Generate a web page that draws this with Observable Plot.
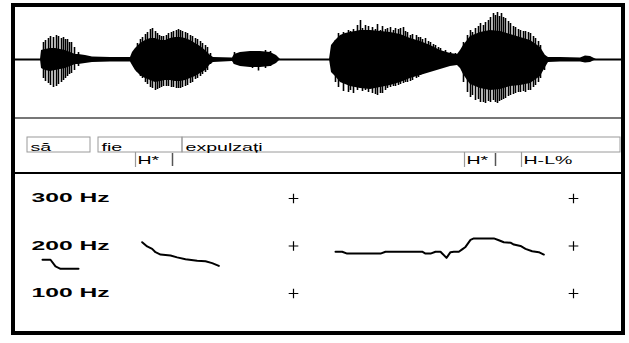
<!DOCTYPE html>
<html><head><meta charset="utf-8">
<script src="https://cdn.jsdelivr.net/npm/d3@7"></script>
<script src="https://cdn.jsdelivr.net/npm/@observablehq/plot@0.6"></script>
<style>
body{margin:0;background:#fff;}
#frame{position:absolute;left:11px;top:3px;width:606px;height:324px;border:4px solid #000;background:#fff;}
#frame svg{display:block;}
.sep1{height:2px;background:#777;}
.sep2{height:2px;background:#000;}
</style></head><body><div id="frame"></div>
<script>
// ---- waveform envelope (time in ms, amplitude in % of full scale) ----
const envT  = [75,78,90,105,120,135,150,165,180,189,210,231,285,345,351,360,375,390,405,420,435,450,465,480,495,510,525,540,555,570,585,594,651,657,675,705,735,765,783,795,942,948,960,975,990,1005,1035,1065,1095,1125,1155,1185,1215,1245,1275,1305,1326,1335,1344,1356,1365,1395,1425,1455,1485,1515,1545,1575,1590,1599,1635,1695,1710,1725,1743];
const envHi = [0,18,20,22,22,20,18,14,10,10,8,5,4,4,14,22,32,38,42,42,38,38,42,44,44,42,38,32,26,18,8,4,3,10,14,16,16,14,8,0,0,28,38,48,52,54,58,58,56,54,50,42,36,28,18,12,10,18,28,38,46,54,58,56,50,44,38,24,8,4,4,3,7,6,0];
const envLo = [0,-18,-22,-24,-22,-20,-18,-14,-10,-10,-8,-6,-5,-5,-12,-22,-32,-38,-42,-46,-44,-42,-42,-44,-44,-42,-38,-34,-28,-22,-10,-6,-4,-10,-14,-16,-16,-14,-8,0,0,-26,-34,-46,-50,-54,-58,-60,-56,-52,-46,-38,-32,-26,-20,-14,-12,-18,-30,-42,-50,-58,-62,-60,-54,-52,-48,-34,-16,-6,-5,-5,-7,-6,0];
// ---- glottal pulse spikes ----
const spikeT  = [84,90,99,105,114,123,129,138,144,150,156,162,168,177,189,
  354,366,375,381,390,396,405,411,420,426,432,438,444,453,459,468,474,483,489,495,501,510,516,525,531,540,546,555,561,570,576,585,
  657,690,711,729,750,765,
  960,969,984,999,1005,1014,1026,1035,1041,1050,1059,1071,1080,1086,1095,1101,1110,1116,1125,1134,1140,1149,1155,1164,1170,1176,1185,1191,1203,1209,1215,1221,1230,1239,1245,1254,1260,1269,1275,1290,1305,1320,
  1344,1356,1365,1371,1380,1389,1395,1404,1410,1419,1425,1434,1440,1446,1452,1458,1464,1470,1479,1485,1494,1500,1509,1515,1524,1530,1539,1545,1554,1560,1569,1575,1587];
const spikeHi = [34,38,42,46,44,48,46,42,44,40,40,34,34,24,14,
  12,32,40,44,50,54,60,62,56,52,48,46,46,48,52,54,56,58,60,58,56,54,52,48,46,42,40,36,32,28,24,12,
  14,12,14,16,18,16,
  38,52,54,58,56,60,68,78,62,68,66,64,60,70,58,66,60,62,64,58,62,60,62,64,56,54,48,50,48,44,44,40,42,36,34,30,28,24,22,18,14,12,
  34,48,58,54,62,66,72,68,74,78,84,92,88,94,86,92,84,82,76,72,66,64,60,58,56,56,54,52,46,42,36,28,8];
const spikeLo = [-38,-44,-48,-52,-56,-54,-50,-46,-42,-38,-34,-30,-28,-22,-14,
  -12,-26,-34,-38,-46,-50,-56,-58,-62,-60,-58,-56,-54,-54,-54,-56,-56,-58,-58,-58,-56,-54,-52,-48,-46,-40,-38,-34,-30,-26,-22,-10,
  -10,-14,-18,-23,-18,-14,
  -46,-56,-64,-66,-62,-68,-62,-58,-64,-62,-66,-68,-70,-72,-68,-68,-62,-58,-56,-54,-54,-52,-50,-48,-46,-46,-44,-42,-38,-36,-32,-30,-28,-24,-22,-22,-18,-18,-16,-14,-12,-10,
  -46,-66,-76,-72,-82,-80,-86,-86,-88,-84,-86,-82,-86,-88,-84,-82,-80,-78,-74,-72,-70,-68,-66,-66,-64,-66,-62,-62,-56,-52,-46,-38,-22];
// ---- annotation tiers ----
const words      = ["să","fie","expulzați"];
const wordStart  = [36,249,501];
const wordEnd    = [225,501,1815];
const tones      = ["H*","H*","H-L%"];
const toneStart  = [360,1347,1518];
const toneEnd    = [471,1440,null];
// ---- pitch track (Hz) ----
const pitchT   = [81,105,120,135,189, 380,395,410,420,435,465,485,510,545,570,590,610, 960,980,995,1095,1110,1220,1230,1245,1260,1275,1293,1305,1315,1330,1340,1350,1365,1375,1435,1450,1465,1485,1495,1515,1530,1550,1570,1585];
const pitchHz  = [171,171,157,152,152, 208,199,194,187,182,180,176,172,169,168,164,158, 188,188,184,184,188,188,184,184,188,188,175,187,188,188,193,198,213,216,216,212,208,207,203,200,194,189,187,182];
const pitchSeg = [1,1,1,1,1, 2,2,2,2,2,2,2,2,2,2,2,2, 3,3,3,3,3,3,3,3,3,3,3,3,3,3,3,3,3,3,3,3,3,3,3,3,3,3,3,3];
const hzTicks  = [100,200,300];
const markT    = [834,1674];
const timeDomain = [0,1818];

const envData = envT.map((t,i)=>({t, hi: envHi[i], lo: envLo[i]}));
const spikeData = spikeT.map((t,i)=>({t, hi: spikeHi[i], lo: spikeLo[i]}));
const wordData = words.map((label,i)=>({label, start: wordStart[i], end: wordEnd[i], tier: "words"}));
const toneData = tones.map((label,i)=>({label, start: toneStart[i], end: toneEnd[i], tier: "tones"}));
const pitchData = pitchT.map((t,i)=>({t, hz: pitchHz[i], seg: pitchSeg[i]}));
const plusData = markT.flatMap(t => hzTicks.map(hz => ({t, hz})));

const frame = document.getElementById("frame");
const base = {width: 606, margin: 0, style: {background: "transparent", overflow: "visible"}};

const wave = Plot.plot({
  ...base, height: 110,
  x: {domain: timeDomain, axis: null},
  y: {domain: [-116, 104], axis: null},
  marks: [
    Plot.ruleY([0], {stroke: "#000", strokeWidth: 2}),
    Plot.areaY(envData, {x: "t", y1: "lo", y2: "hi", fill: "#000"}),
    Plot.ruleX(spikeData, {x: "t", y1: "lo", y2: "hi", stroke: "#000", strokeWidth: 1.6})
  ]
});

const tierFont = {fontFamily: "Liberation Sans, Arial, sans-serif", fontSize: 11.5, fill: "#000"};
const tier = Plot.plot({
  ...base, height: 53,
  x: {domain: timeDomain, axis: null},
  y: {type: "band", domain: ["words","tones"], range: [18, 48], padding: 0, axis: null},
  marks: [
    Plot.barX(wordData, {x1: "start", x2: "end", y: "tier", fill: "none", stroke: "#9a9a9a", strokeWidth: 1}),
    Plot.tickX(toneData, {x: "start", y: "tier", stroke: "#9a9a9a", strokeWidth: 1.2}),
    Plot.tickX(toneData.filter(d => d.end != null), {x: "end", y: "tier", stroke: "#555", strokeWidth: 1.5, inset: 1}),
    Plot.text(wordData, {x: "start", y: "tier", text: "label", textAnchor: "start", dx: 3, dy: 2.5, ...tierFont, className: "stretch-t"}),
    Plot.text(toneData, {x: "start", y: "tier", text: "label", textAnchor: "start", dx: 2, dy: 0.5, ...tierFont, className: "stretch-t"})
  ]
});

const pitch = Plot.plot({
  ...base, height: 157,
  x: {domain: timeDomain, axis: null},
  y: {domain: [20, 350.5], axis: null},
  marks: [
    Plot.axisY({ticks: hzTicks, tickFormat: d => `${d} Hz`, label: null, anchor: "left", tickSize: 0, tickPadding: 0, textAnchor: "start", dx: 16, fontSize: 12, fontWeight: "bold", fontFamily: "Liberation Sans, Arial, sans-serif", fill: "#000", className: "stretch-h"}),
    Plot.dot(plusData, {x: "t", y: "hz", symbol: "plus", r: 3.2, stroke: "#000", strokeWidth: 1.2}),
    Plot.line(pitchData, {x: "t", y: "hz", z: "seg", stroke: "#000", strokeWidth: 2, curve: "linear"})
  ]
});

frame.appendChild(wave);
const s1 = document.createElement("div"); s1.className = "sep1"; frame.appendChild(s1);
frame.appendChild(tier);
const s2 = document.createElement("div"); s2.className = "sep2"; frame.appendChild(s2);
frame.appendChild(pitch);

function stretch(sel, factor) {
  document.querySelectorAll(sel + " text").forEach(el => {
    const w = el.getComputedTextLength();
    el.setAttribute("textLength", (w * factor).toFixed(1));
    el.setAttribute("lengthAdjust", "spacingAndGlyphs");
  });
}
stretch(".stretch-t", 1.7);
stretch(".stretch-h", 2.05);
</script></body></html>
